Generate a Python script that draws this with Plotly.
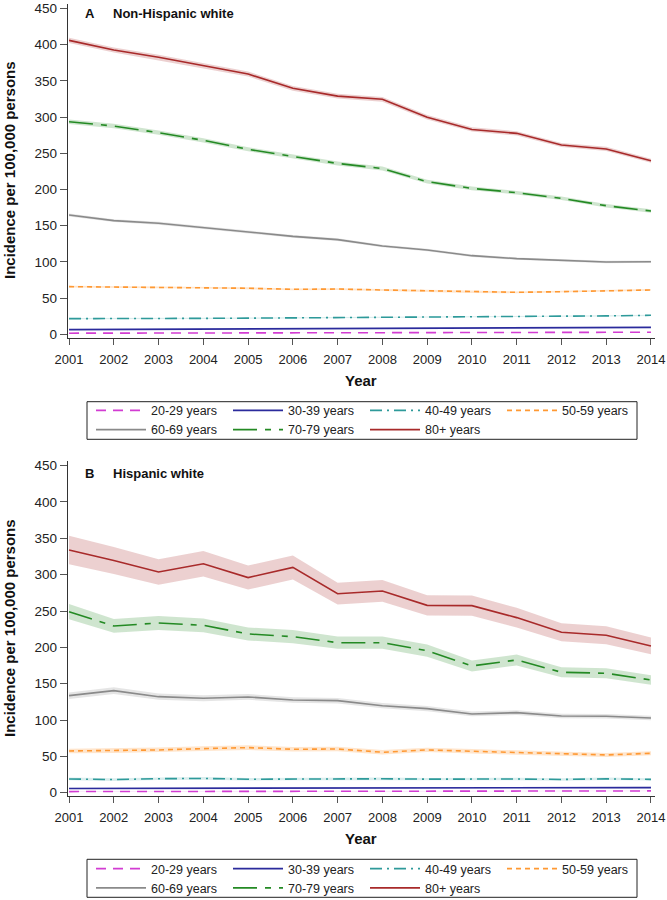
import plotly.graph_objects as go

years = [2001, 2002, 2003, 2004, 2005, 2006, 2007, 2008, 2009, 2010, 2011, 2012, 2013, 2014]
groups = ["20-29 years", "30-39 years", "40-49 years", "50-59 years", "60-69 years", "70-79 years", "80+ years"]

# Panel A: Non-Hispanic white
a_20_29 = [1.5, 1.6, 1.7, 1.8, 1.9, 2.0, 2.0, 2.1, 2.2, 2.3, 2.4, 2.5, 2.6, 2.8]
a_30_39 = [6.4, 6.6, 6.9, 7.1, 7.3, 7.5, 7.7, 7.9, 8.1, 8.4, 8.7, 9.0, 9.3, 9.6]
a_40_49 = [21.6, 21.5, 21.8, 22.0, 22.3, 22.6, 23.0, 23.4, 23.8, 24.0, 24.4, 24.9, 25.4, 26.2]
a_50_59 = [65.8, 65.2, 64.9, 64.5, 63.6, 62.1, 62.5, 61.2, 59.8, 58.4, 58.0, 58.8, 60.0, 61.2]
a_60_69 = [164.8, 157.0, 153.3, 147.2, 140.9, 135.3, 130.8, 122.0, 116.4, 108.6, 104.5, 102.2, 99.9, 100.3]
a_70_79 = [293.6, 287.7, 278.5, 268.0, 255.5, 246.0, 236.0, 229.0, 210.8, 201.6, 195.6, 187.8, 177.6, 170.3]
a_80 = [406.0, 392.8, 382.6, 370.6, 359.5, 339.8, 329.0, 324.6, 299.7, 283.0, 277.6, 261.5, 256.0, 239.8]

# Panel A: 95% CI half-widths
a_20_29_hw = [0.2, 0.2, 0.2, 0.2, 0.2, 0.2, 0.2, 0.2, 0.2, 0.2, 0.2, 0.2, 0.2, 0.2]
a_30_39_hw = [0.4, 0.4, 0.4, 0.4, 0.4, 0.4, 0.4, 0.4, 0.4, 0.4, 0.4, 0.4, 0.4, 0.4]
a_40_49_hw = [0.8, 0.8, 0.8, 0.8, 0.8, 0.8, 0.8, 0.8, 0.8, 0.8, 0.8, 0.8, 0.8, 0.8]
a_50_59_hw = [1.3, 1.3, 1.3, 1.3, 1.3, 1.2, 1.2, 1.2, 1.2, 1.2, 1.2, 1.2, 1.2, 1.2]
a_60_69_hw = [2.0, 2.0, 2.0, 1.9, 1.9, 1.9, 1.8, 1.8, 1.8, 1.7, 1.7, 1.7, 1.6, 1.6]
a_70_79_hw = [3.0, 3.0, 2.9, 2.9, 2.8, 2.8, 2.7, 2.7, 2.6, 2.5, 2.5, 2.4, 2.4, 2.3]
a_80_hw = [3.6, 3.5, 3.5, 3.4, 3.4, 3.3, 3.3, 3.2, 3.1, 3.0, 3.0, 2.9, 2.9, 2.8]

# Panel B: Hispanic white
b_20_29 = [1.5, 1.6, 1.6, 1.7, 1.7, 1.8, 1.8, 1.9, 1.9, 2.0, 2.0, 2.1, 2.1, 2.4]
b_30_39 = [5.8, 5.9, 6.0, 6.1, 6.2, 6.3, 6.3, 6.4, 6.5, 6.6, 6.7, 6.8, 6.9, 7.0]
b_40_49 = [18.9, 18.0, 19.2, 19.6, 18.5, 19.0, 19.4, 19.1, 18.6, 19.0, 18.8, 18.2, 19.0, 18.3]
b_50_59 = [57.4, 57.8, 58.8, 60.6, 62.0, 59.7, 60.1, 55.6, 58.8, 57.0, 55.1, 53.3, 51.9, 54.2]
b_60_69 = [133.5, 140.4, 132.1, 129.9, 131.7, 127.6, 126.6, 119.7, 115.6, 108.3, 110.1, 105.5, 105.1, 102.8]
b_70_79 = [249.0, 229.4, 233.5, 230.3, 218.4, 214.7, 206.4, 206.4, 195.4, 174.4, 182.6, 165.7, 164.3, 155.1]
b_80 = [334.0, 319.5, 303.7, 315.0, 296.0, 310.0, 273.8, 277.6, 257.8, 257.4, 240.9, 220.7, 216.6, 201.9]

# Panel B: 95% CI half-widths
b_20_29_hw = [0.6, 0.6, 0.6, 0.6, 0.6, 0.6, 0.6, 0.6, 0.6, 0.6, 0.6, 0.6, 0.6, 0.6]
b_30_39_hw = [1.0, 1.0, 1.0, 1.0, 1.0, 1.0, 1.0, 1.0, 1.0, 1.0, 1.0, 1.0, 1.0, 1.0]
b_40_49_hw = [1.8, 1.8, 1.8, 1.8, 1.8, 1.8, 1.8, 1.8, 1.7, 1.7, 1.7, 1.7, 1.7, 1.7]
b_50_59_hw = [3.2, 3.2, 3.2, 3.2, 3.2, 3.1, 3.1, 3.0, 3.0, 3.0, 2.9, 2.9, 2.8, 2.8]
b_60_69_hw = [4.5, 4.5, 4.2, 4.0, 4.0, 3.8, 3.8, 3.6, 3.5, 3.3, 3.3, 3.2, 3.1, 3.0]
b_70_79_hw = [10.5, 9.5, 9.5, 9.5, 9.0, 9.0, 8.5, 8.5, 8.5, 7.5, 7.5, 7.0, 7.0, 6.5]
b_80_hw = [19.5, 18.5, 17.5, 17.5, 16.5, 16.5, 15.0, 15.0, 14.0, 14.0, 13.5, 12.5, 12.5, 11.5]

x_ticks = years
y_ticks = [0, 50, 100, 150, 200, 250, 300, 350, 400, 450]

colors = ["#D23CD2", "#2B2B9C", "#2E9A9A", "#FF9933", "#8A8A8A", "#248A24", "#A82A2A"]
bands = ["rgba(210,60,210,0.15)", "rgba(43,43,156,0.12)", "rgba(46,154,154,0.18)",
         "rgba(255,153,51,0.25)", "rgba(138,138,138,0.22)", "rgba(36,138,36,0.22)",
         "rgba(168,42,42,0.22)"]
dashes = ["10px,7px", "solid", "12px,5px,2px,5px", "5px,4px", "solid", "24px,8px,6px,8px", "solid"]

panel_a = [(a_20_29, a_20_29_hw), (a_30_39, a_30_39_hw), (a_40_49, a_40_49_hw), (a_50_59, a_50_59_hw),
           (a_60_69, a_60_69_hw), (a_70_79, a_70_79_hw), (a_80, a_80_hw)]
panel_b = [(b_20_29, b_20_29_hw), (b_30_39, b_30_39_hw), (b_40_49, b_40_49_hw), (b_50_59, b_50_59_hw),
           (b_60_69, b_60_69_hw), (b_70_79, b_70_79_hw), (b_80, b_80_hw)]

fig = go.Figure()

def add_panel(panel, xa, ya, legend):
    for i, (vals, hw) in enumerate(panel):
        up = [v + h for v, h in zip(vals, hw)]
        lo = [v - h for v, h in zip(vals, hw)]
        fig.add_trace(go.Scatter(
            x=years + years[::-1], y=up + lo[::-1], fill="toself",
            fillcolor=bands[i], line=dict(width=0), mode="lines",
            hoverinfo="skip", showlegend=False, xaxis=xa, yaxis=ya))
    for i, (vals, hw) in enumerate(panel):
        fig.add_trace(go.Scatter(
            x=years, y=vals, mode="lines", name=groups[i],
            line=dict(color=colors[i], width=1.6, dash=dashes[i]),
            xaxis=xa, yaxis=ya, legend=legend))

add_panel(panel_a, "x", "y", "legend")
add_panel(panel_b, "x2", "y2", "legend2")

W, H = 667, 900
font_family = "Liberation Sans, Arial, sans-serif"
xdom = [67.7 / W, 655 / W]
xaxis_common = dict(range=[2000.97, 2014.09], tickvals=x_ticks, ticktext=[str(v) for v in x_ticks],
                    showline=True, linecolor="#333333", linewidth=1, ticks="outside",
                    ticklen=6, tickcolor="#555555", showgrid=False, zeroline=False,
                    automargin=False,
                    tickfont=dict(size=13, color="#222222", family=font_family),
                    ticklabelstandoff=3)
yaxis_common = dict(range=[-5, 456], tickvals=y_ticks, showline=True, linecolor="#333333", linewidth=1,
                    ticks="outside", ticklen=7, tickcolor="#555555", showgrid=False, zeroline=False,
                    automargin=False,
                    tickfont=dict(size=13.5, color="#222222", family=font_family))

legend_common = dict(orientation="h", xanchor="left", yanchor="top", borderwidth=0,
                     font=dict(size=12.5, color="#222222", family=font_family),
                     itemwidth=50, entrywidth=72, bgcolor="rgba(0,0,0,0)", tracegroupgap=0)

fig.update_layout(
    template="none",
    width=W, height=H, margin=dict(l=0, r=0, t=0, b=0, autoexpand=False),
    paper_bgcolor="white", plot_bgcolor="white", showlegend=True,
    xaxis=dict(domain=xdom, anchor="y", **xaxis_common),
    yaxis=dict(domain=[1 - 337.9 / H, 1 - 4.2 / H], anchor="x", **yaxis_common),
    xaxis2=dict(domain=xdom, anchor="y2", **xaxis_common),
    yaxis2=dict(domain=[1 - 796.3 / H, 1 - 461.3 / H], anchor="x2", **yaxis_common),
    legend=dict(x=91 / W, y=1 - 395.7 / H, **legend_common),
    legend2=dict(x=91 / W, y=1 - 854 / H, **legend_common),
)

# legend frames
shapes = []
for top, bot in [(401.7, 439.3), (859.3, 897.3)]:
    shapes.append(dict(type="rect", xref="paper", yref="paper", x0=87 / W, x1=637 / W,
                       y0=1 - bot / H, y1=1 - top / H, line=dict(color="#222222", width=1),
                       fillcolor="rgba(0,0,0,0)", layer="below"))
fig.update_layout(shapes=shapes)

ann = []
bold = dict(family=font_family, size=15, color="#111111")
for yc_year, yc_title, letter, ttl, yl in [(380, 170, "A", "Non-Hispanic white", 14),
                                          (838, 628, "B", "Hispanic white", 473)]:
    ann.append(dict(text="<b>Year</b>", x=361 / W, y=1 - yc_year / H, xref="paper", yref="paper",
                    showarrow=False, xanchor="center", yanchor="middle", font=bold))
    ann.append(dict(text="<b>Incidence per 100,000 persons</b>", x=9 / W, y=1 - yc_title / H,
                    xref="paper", yref="paper", showarrow=False, textangle=-90,
                    xanchor="center", yanchor="middle", font=bold))
    ann.append(dict(text="<b>" + letter + "</b>", x=83 / W, y=1 - yl / H, xref="paper", yref="paper",
                    showarrow=False, xanchor="left", yanchor="middle",
                    font=dict(family=font_family, size=13, color="#111111")))
    ann.append(dict(text="<b>" + ttl + "</b>", x=111 / W, y=1 - yl / H, xref="paper", yref="paper",
                    showarrow=False, xanchor="left", yanchor="middle",
                    font=dict(family=font_family, size=13, color="#111111")))
fig.update_layout(annotations=ann)

fig.write_html(
    "out.html",
    config={"displayModeBar": False},
    post_script="document.body.style.margin='0px';document.body.style.overflow='hidden';",
)
